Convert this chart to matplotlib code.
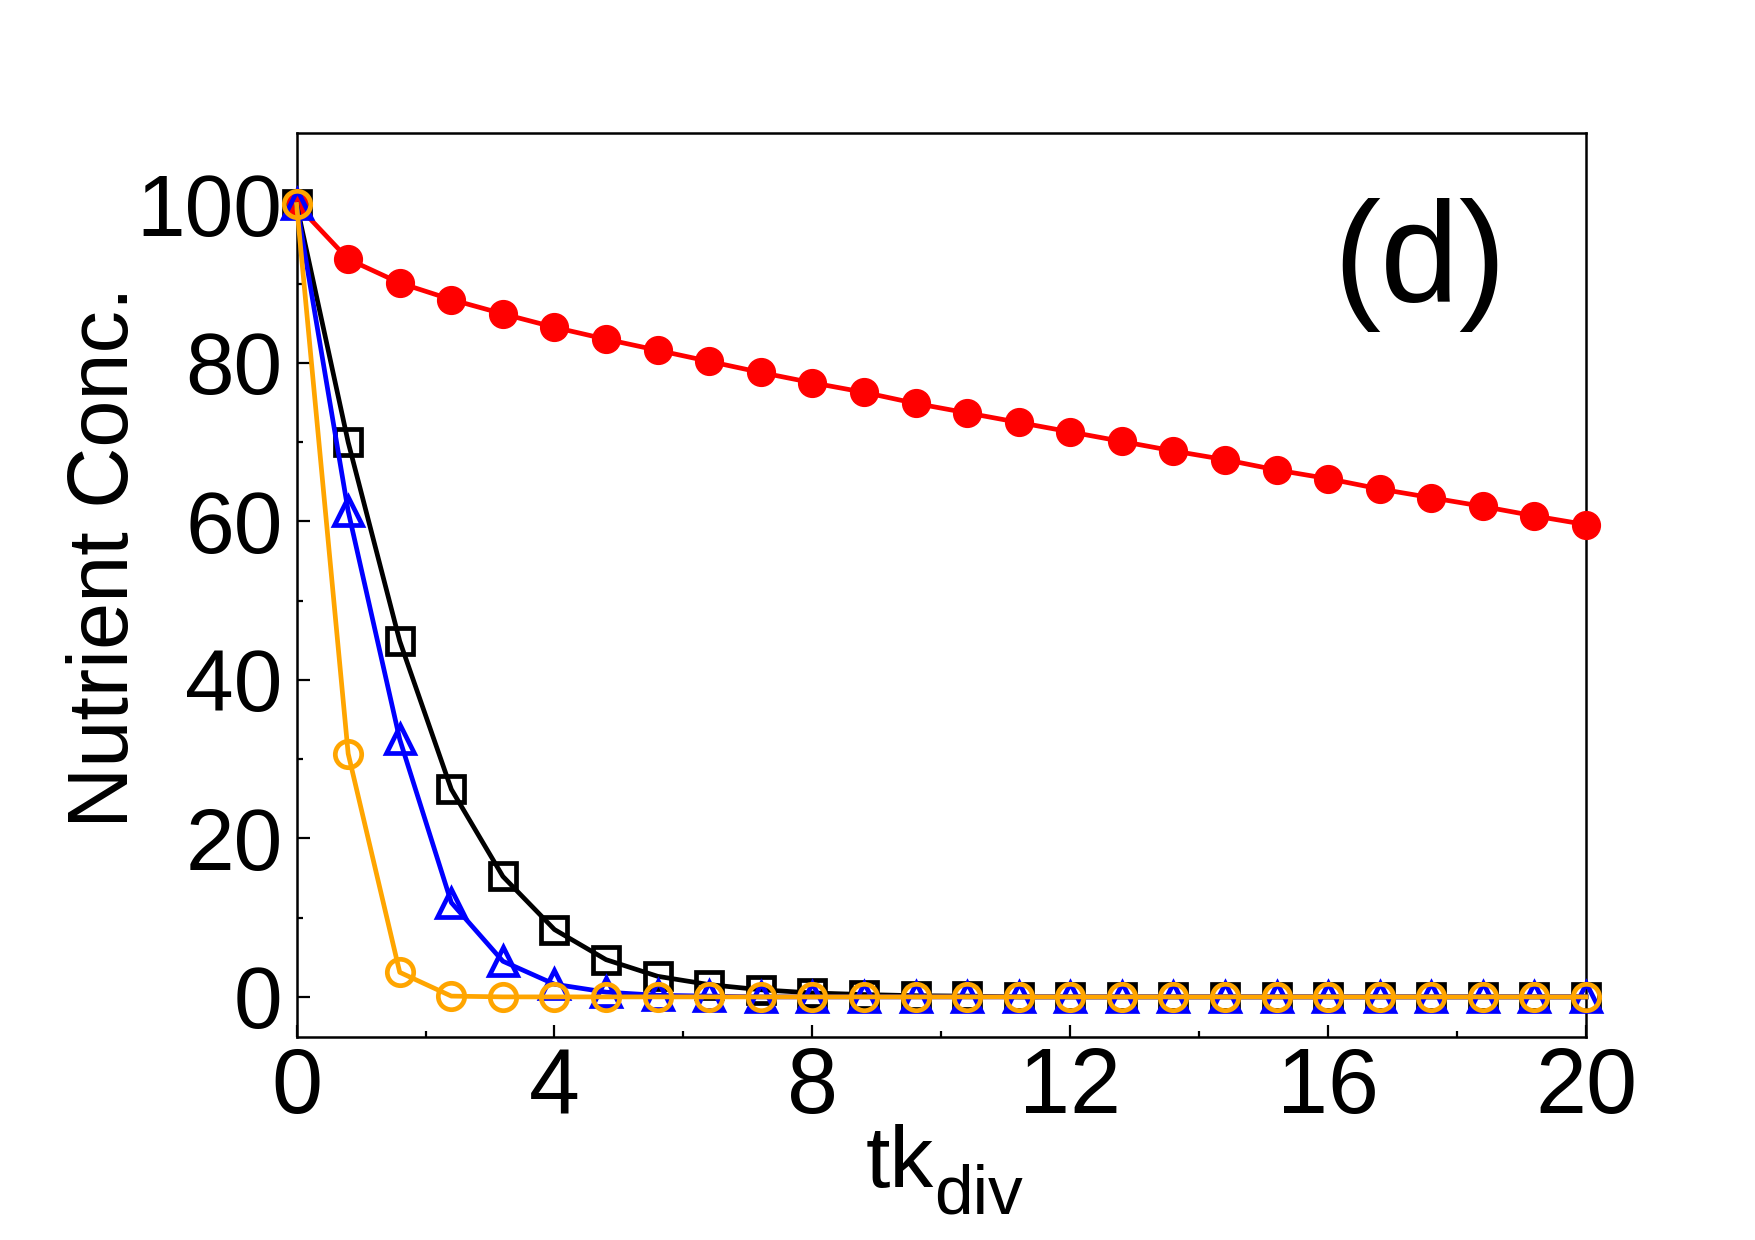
import numpy as np
from matplotlib import pyplot as plt
from matplotlib.ticker import MultipleLocator

plt.rcParams['font.family'] = ['Liberation Sans', 'DejaVu Sans']

# time points (tk_div), 26 samples from 0 to 20
t = np.linspace(0, 20, 26)

red_vals = [100, 93.1, 90.1, 88.0, 86.2, 84.5, 83.0, 81.6, 80.2, 78.8,
            77.5, 76.3, 74.9, 73.7, 72.5, 71.3, 70.1, 68.9, 67.8, 66.5,
            65.4, 64.1, 63.0, 61.9, 60.7, 59.6]
black_vals = [100, 70.0, 44.9, 26.2, 15.2, 8.5, 4.7, 2.6, 1.55, 0.9,
              0.5, 0.3, 0.15, 0.1, 0, 0, 0, 0, 0, 0,
              0, 0, 0, 0, 0, 0]
blue_vals = [100, 61.3, 32.5, 11.9, 4.5, 1.6, 0.6, 0.2, 0.1, 0, 0,
             0, 0, 0, 0, 0, 0, 0, 0, 0,
             0, 0, 0, 0, 0, 0]
orange_vals = [100, 30.7, 3.1, 0.1, 0, 0, 0, 0, 0, 0,
               0, 0, 0, 0, 0, 0, 0, 0, 0, 0,
               0, 0, 0, 0, 0, 0]

fig = plt.figure(figsize=(17.55, 12.4), dpi=100)
ax = fig.add_axes([0.169, 0.1641, 0.7347, 0.7285])

lw = 3.4
ax.plot(t, red_vals, color='red', lw=lw, marker='o', ms=20,
        mfc='red', mec='red', clip_on=False, zorder=3)
ax.plot(t, black_vals, color='black', lw=lw, marker='s', ms=19,
        mfc='none', mec='black', mew=3.4, clip_on=False, zorder=4)
ax.plot(t, blue_vals, color='blue', lw=lw, marker='^', ms=20,
        mfc='none', mec='blue', mew=3.4, clip_on=False, zorder=5)
ax.plot(t, orange_vals, color='orange', lw=lw, marker='o', ms=19,
        mfc='none', mec='orange', mew=3.4, clip_on=False, zorder=6)

ax.set_xlim(0, 20)
ax.set_ylim(-5, 109)
ax.xaxis.set_major_locator(MultipleLocator(4))
ax.xaxis.set_minor_locator(MultipleLocator(2))
ax.yaxis.set_major_locator(MultipleLocator(20))
ax.yaxis.set_minor_locator(MultipleLocator(10))
ax.tick_params(which='both', direction='in', top=False, right=False, width=1.6)
ax.tick_params(which='major', length=9)
ax.tick_params(which='minor', length=4)
ax.tick_params(axis='x', labelsize=66, pad=7)
ax.tick_params(axis='y', labelsize=63, pad=10)
for s in ax.spines.values():
    s.set_linewidth(1.8)

# axis labels
fig.text(0.0729, 0.551, 'Nutrient Conc.', fontsize=61, rotation=90,
         rotation_mode='anchor', ha='center', va='baseline')
fig.text(0.5322, 0.0427, 'tk', fontsize=63, ha='right', va='baseline')
fig.text(0.5322, 0.021, 'div', fontsize=50, ha='left', va='baseline')

ax.text(0.871, 0.854, '(d)', transform=ax.transAxes, fontsize=102,
        ha='center', va='center')

fig.savefig('out.png', dpi=100)
